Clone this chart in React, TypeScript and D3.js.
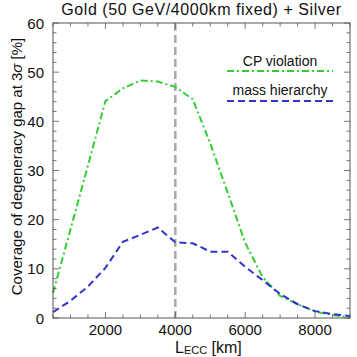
import * as d3 from "d3";
import { useEffect, useRef } from "react";

const baselines = [500, 1000, 1500, 2000, 2500, 3000, 3500, 4000, 4500, 5000, 5500, 6000, 6500, 7000, 7500, 8000, 8500, 9000];
const cpViolation = [5.1, 18, 31, 44.1, 46.7, 48.3, 48.1, 47.0, 44.5, 35.5, 25.5, 15.3, 8.3, 4.5, 2.8, 1.3, 0.6, 0.1];
const massHierarchy = [1.2, 3.5, 6.4, 10.2, 15.5, 16.9, 18.4, 15.4, 15.2, 13.5, 13.5, 10.4, 7.7, 4.9, 2.8, 1.4, 0.8, 0.4];
const xTicks = [2000, 4000, 6000, 8000];
const yTicks = [0, 10, 20, 30, 40, 50, 60];
const fixedBaseline = 4000;

export default function App() {
  const ref = useRef<SVGSVGElement>(null);

  useEffect(() => {
    if (!ref.current) return;
    const svg = d3.select(ref.current);
    svg.selectAll("*").remove();

    const width = 357;
    const height = 357;
    const m = { left: 53, right: 7, top: 23, bottom: 39 };
    const font = "'Liberation Sans', Arial, sans-serif";

    const x = d3.scaleLinear().domain([500, 9000]).range([m.left, width - m.right]);
    const y = d3.scaleLinear().domain([0, 60]).range([height - m.bottom, m.top]);
    const [x0, x1] = x.range();
    const [y0, y1] = y.range();

    svg.attr("width", width).attr("height", height).style("display", "block");
    svg.append("rect").attr("width", width).attr("height", height).attr("fill", "#fff");

    const plot = svg.append("g");

    // fixed baseline marker
    plot.append("line")
      .attr("x1", x(fixedBaseline)).attr("x2", x(fixedBaseline))
      .attr("y1", y1).attr("y2", y0)
      .attr("stroke", "#aaaaaa")
      .attr("stroke-width", 2.5)
      .attr("stroke-dasharray", "8,4");

    const line = d3.line<number>()
      .x((_, i) => x(baselines[i]))
      .y(d => y(d));

    plot.append("path")
      .datum(cpViolation)
      .attr("d", line)
      .attr("fill", "none")
      .attr("stroke", "#33cc33")
      .attr("stroke-width", 2)
      .attr("stroke-dasharray", "7,3,2,3");

    plot.append("path")
      .datum(massHierarchy)
      .attr("d", line)
      .attr("fill", "none")
      .attr("stroke", "#3333cc")
      .attr("stroke-width", 2)
      .attr("stroke-dasharray", "7,4");

    // frame
    svg.append("rect")
      .attr("x", x0).attr("y", y1)
      .attr("width", x1 - x0).attr("height", y0 - y1)
      .attr("fill", "none")
      .attr("stroke", "#555")
      .attr("stroke-width", 1);

    const ticks = svg.append("g").attr("stroke", "#555").attr("stroke-width", 0.8);
    const xMinor = d3.range(500, 9001, 500);
    xMinor.forEach(v => {
      const len = v % 2000 === 0 ? 6 : 3.5;
      ticks.append("line").attr("x1", x(v)).attr("x2", x(v)).attr("y1", y0).attr("y2", y0 - len);
      ticks.append("line").attr("x1", x(v)).attr("x2", x(v)).attr("y1", y1).attr("y2", y1 + len);
    });
    const yMinor = d3.range(0, 61, 2);
    yMinor.forEach(v => {
      const len = v % 10 === 0 ? 6 : 3.5;
      ticks.append("line").attr("y1", y(v)).attr("y2", y(v)).attr("x1", x0).attr("x2", x0 + len);
      ticks.append("line").attr("y1", y(v)).attr("y2", y(v)).attr("x1", x1).attr("x2", x1 - len);
    });

    const labels = svg.append("g").attr("font-family", font).attr("fill", "#111").attr("font-size", 15);

    xTicks.forEach(v => {
      labels.append("text")
        .attr("x", x(v)).attr("y", y0 + 17)
        .attr("text-anchor", "middle")
        .text(v);
    });
    yTicks.forEach(v => {
      labels.append("text")
        .attr("x", x0 - 9).attr("y", y(v) + 5.5)
        .attr("text-anchor", "end")
        .text(v);
    });

    // title
    labels.append("text")
      .attr("x", (x0 + x1) / 2).attr("y", 15)
      .attr("text-anchor", "middle")
      .attr("font-size", 16)
      .attr("letter-spacing", 0.55)
      .text("Gold (50 GeV/4000km fixed) + Silver");

    // x label
    const xl = labels.append("text")
      .attr("x", 175).attr("y", 353)
      .attr("text-anchor", "start")
      .attr("font-size", 16);
    xl.append("tspan").text("L");
    xl.append("tspan").attr("font-size", 11).attr("dy", 0.5).text("ECC");
    xl.append("tspan").attr("dy", -0.5).text(" [km]");

    // y label
    const yl = labels.append("text")
      .attr("transform", `translate(22,${(y0 + y1) / 2 - 4}) rotate(-90)`)
      .attr("text-anchor", "middle");
    yl.append("tspan").text("Coverage of degeneracy gap at 3");
    yl.append("tspan").attr("font-style", "italic").text("σ");
    yl.append("tspan").text(" [%]");

    // legend
    const legend = [
      { name: "CP violation", color: "#33cc33", dash: "7,3,2,3", ty: 66, ly: 71 },
      { name: "mass hierarchy", color: "#3333cc", dash: "7,4", ty: 95, ly: 101 },
    ];
    legend.forEach(d => {
      labels.append("text")
        .attr("x", 280).attr("y", d.ty)
        .attr("text-anchor", "middle")
        .attr("font-size", 14)
        .text(d.name);
      svg.append("line")
        .attr("x1", 227).attr("x2", 333)
        .attr("y1", d.ly).attr("y2", d.ly)
        .attr("stroke", d.color)
        .attr("stroke-width", 2)
        .attr("stroke-dasharray", d.dash);
    });
  }, []);

  return (
    <div style={{ position: "absolute", left: 0, top: 0 }}>
      <svg ref={ref} />
    </div>
  );
}
